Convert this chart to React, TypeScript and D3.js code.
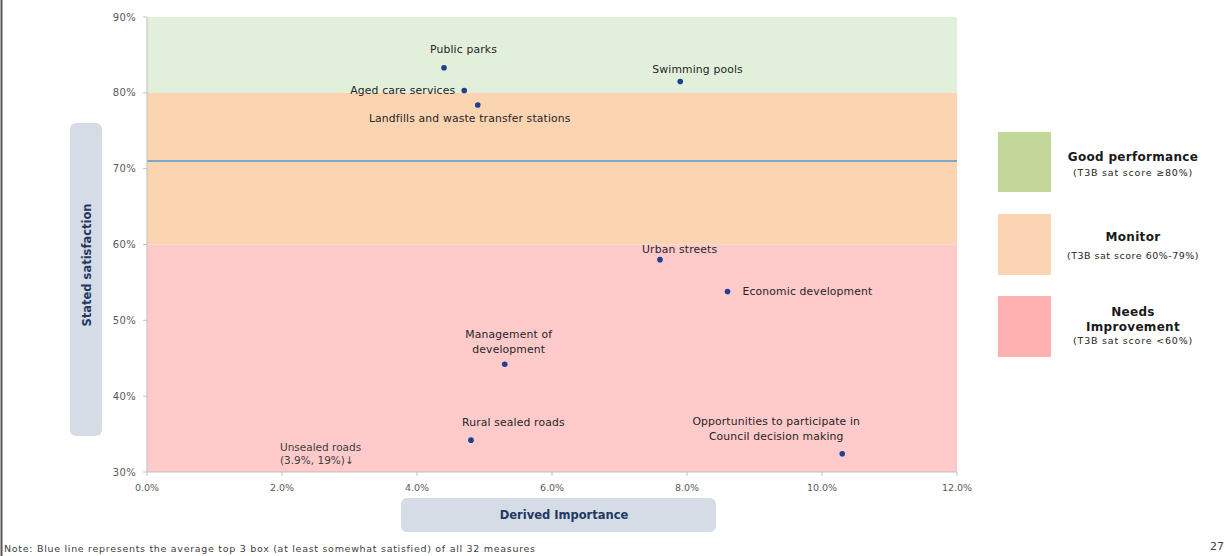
import React from 'react';
import * as d3 from 'd3';

// service measures: derived importance (%) vs stated satisfaction (T3B %)
const services = [
  'Public parks',
  'Swimming pools',
  'Aged care services',
  'Landfills and waste transfer stations',
  'Urban streets',
  'Economic development',
  'Management of development',
  'Rural sealed roads',
  'Opportunities to participate in Council decision making',
];
const importance = [4.4, 7.9, 4.7, 4.9, 7.6, 8.6, 5.3, 4.8, 10.3];
const satisfaction = [83.3, 81.5, 80.3, 78.4, 58.0, 53.8, 44.2, 34.2, 32.4];

const xTicks = [0, 2, 4, 6, 8, 10, 12];
const yTicks = [30, 40, 50, 60, 70, 80, 90];
const averageT3B = 71;

const zones = [
  { name: 'Good performance', sub: '(T3B sat score \u226580%)', from: 80, to: 90 },
  { name: 'Monitor', sub: '(T3B sat score 60%-79%)', from: 60, to: 80 },
  { name: 'Needs Improvement', sub: '(T3B sat score <60%)', from: 30, to: 60 },
];

// label placement around each dot
const labelPos: Record<string, { lines: string[]; dx: number; dy: number; anchor: string }> = {
  'Public parks': { lines: ['Public parks'], dx: -14, dy: -19, anchor: 'start' },
  'Swimming pools': { lines: ['Swimming pools'], dx: -28, dy: -12, anchor: 'start' },
  'Aged care services': { lines: ['Aged care services'], dx: -9, dy: 0, anchor: 'end' },
  'Landfills and waste transfer stations': { lines: ['Landfills and waste transfer stations'], dx: -8, dy: 13, anchor: 'middle' },
  'Urban streets': { lines: ['Urban streets'], dx: -18, dy: -10, anchor: 'start' },
  'Economic development': { lines: ['Economic development'], dx: 15, dy: 0, anchor: 'start' },
  'Management of development': { lines: ['Management of', 'development'], dx: 4, dy: -30, anchor: 'middle' },
  'Rural sealed roads': { lines: ['Rural sealed roads'], dx: -9, dy: -18, anchor: 'start' },
  'Opportunities to participate in Council decision making': {
    lines: ['Opportunities to participate in', 'Council decision making'], dx: -66, dy: -33, anchor: 'middle',
  },
};

const FONT = '"DejaVu Sans", sans-serif';
const bandFill = ['#e2efda', '#fbd4b2', '#ffcaca'];
const legendFill = ['#c4d79b', '#fbd4b4', '#ffb1b1'];

export default function App() {
  const x = d3.scaleLinear().domain([0, 12]).range([147, 957]);
  const y = d3.scaleLinear().domain([30, 90]).range([472, 17]);
  const fmtX = d3.format('.1f');

  return (
    <svg width={1228} height={556} style={{ position: 'absolute', left: 0, top: 0, background: '#fff' }} fontFamily={FONT}>
      <line x1={1.5} x2={1.5} y1={0} y2={556} stroke="#555" strokeWidth={2} />

      {/* zones */}
      {zones.map((z, i) => (
        <rect key={z.name} x={x(0)} y={y(z.to)} width={x(12) - x(0)} height={y(z.from) - y(z.to)} fill={bandFill[i]} />
      ))}

      {/* average line */}
      <line x1={x(0)} x2={x(12)} y1={y(averageT3B)} y2={y(averageT3B)} stroke="#7ea6c8" strokeWidth={2} />

      {/* axes */}
      <line x1={x(0)} x2={x(0)} y1={y(90)} y2={y(30)} stroke="#bfbfbf" />
      <line x1={x(0)} x2={x(12)} y1={y(30)} y2={y(30)} stroke="#bfbfbf" />
      {yTicks.map(t => (
        <g key={t}>
          <line x1={x(0) - 4} x2={x(0)} y1={y(t)} y2={y(t)} stroke="#bfbfbf" />
          <text x={136} y={y(t)} dy="0.35em" textAnchor="end" fontSize={10} fill="#595959" letterSpacing={0.3}>{t}%</text>
        </g>
      ))}
      {xTicks.map(t => (
        <g key={t}>
          <line x1={x(t)} x2={x(t)} y1={y(30)} y2={y(30) + 4} stroke="#bfbfbf" />
          <text x={x(t)} y={488} dy="0.35em" textAnchor="middle" fontSize={9.5} fill="#595959">{fmtX(t)}%</text>
        </g>
      ))}

      {/* points and labels */}
      {services.map((s, i) => {
        const cx = x(importance[i]);
        const cy = y(satisfaction[i]);
        const lp = labelPos[s];
        return (
          <g key={s}>
            <circle cx={cx} cy={cy} r={2.8} fill="#1f3f93" />
            {lp.lines.map((ln, j) => (
              <text key={j} x={cx + lp.dx} y={cy + lp.dy + j * 15} dy="0.35em" textAnchor={lp.anchor}
                fontSize={10.8} fill="#262626" letterSpacing={0.15}>{ln}</text>
            ))}
          </g>
        );
      })}

      {/* off-scale note */}
      <text x={x(2) - 2} y={y(30) - 25} dy="0.35em" fontSize={10.5} fill="#404040">Unsealed roads</text>
      <text x={x(2) - 2} y={y(30) - 12} dy="0.35em" fontSize={10.5} fill="#404040">(3.9%, 19%)↓</text>

      {/* axis titles */}
      <rect x={70} y={123} width={32} height={313} rx={6} fill="#d6dce5" />
      <text transform="translate(87,265) rotate(-90)" dy="0.35em" textAnchor="middle" fontSize={11.5} fontWeight="bold" fill="#1f3864">Stated satisfaction</text>
      <rect x={401} y={498} width={315} height={34} rx={6} fill="#d6dce5" />
      <text x={564} y={515} dy="0.35em" textAnchor="middle" fontSize={11.5} fontWeight="bold" fill="#1f3864">Derived Importance</text>

      {/* legend */}
      <rect x={998} y={132} width={53} height={60} fill={legendFill[0]} />
      <text x={1133} y={157} dy="0.35em" textAnchor="middle" fontSize={12} fontWeight="bold" fill="#1a1a1a" letterSpacing={0.3}>Good performance</text>
      <text x={1133} y={173} dy="0.35em" textAnchor="middle" fontSize={9.5} fill="#262626" letterSpacing={0.8}>{zones[0].sub}</text>

      <rect x={998} y={214} width={53} height={61} fill={legendFill[1]} />
      <text x={1133} y={237} dy="0.35em" textAnchor="middle" fontSize={12} fontWeight="bold" fill="#1a1a1a" letterSpacing={0.3}>Monitor</text>
      <text x={1133} y={256} dy="0.35em" textAnchor="middle" fontSize={9.5} fill="#262626" letterSpacing={0.5}>{zones[1].sub}</text>

      <rect x={998} y={296} width={53} height={61} fill={legendFill[2]} />
      <text x={1133} y={312} dy="0.35em" textAnchor="middle" fontSize={12} fontWeight="bold" fill="#1a1a1a" letterSpacing={0.3}>Needs</text>
      <text x={1133} y={327} dy="0.35em" textAnchor="middle" fontSize={12} fontWeight="bold" fill="#1a1a1a" letterSpacing={0.3}>Improvement</text>
      <text x={1133} y={341} dy="0.35em" textAnchor="middle" fontSize={9.5} fill="#262626" letterSpacing={0.8}>{zones[2].sub}</text>

      {/* footnote */}
      <text x={4} y={549} dy="0.35em" fontSize={9.5} fill="#404040" letterSpacing={0.7}>
        Note: Blue line represents the average top 3 box (at least somewhat satisfied) of all 32 measures
      </text>
      <text x={1224} y={546} dy="0.35em" textAnchor="end" fontSize={11} fill="#404040">27</text>
    </svg>
  );
}
